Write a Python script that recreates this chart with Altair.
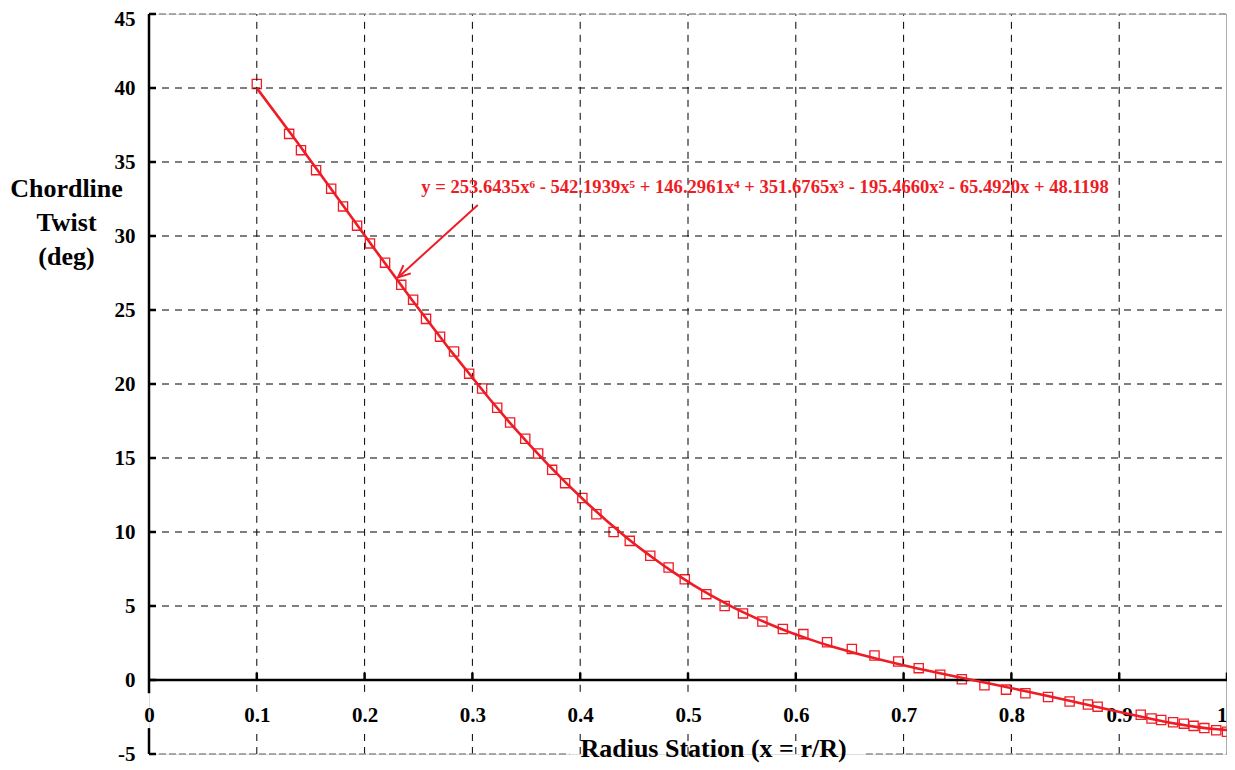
import altair as alt
import pandas as pd

# ---- data ----
station = [0.100, 0.130, 0.141, 0.155, 0.169, 0.180, 0.193, 0.205, 0.219, 0.234,
           0.245, 0.257, 0.270, 0.283, 0.297, 0.309, 0.323, 0.335, 0.349, 0.361,
           0.374, 0.386, 0.402, 0.415, 0.431, 0.446, 0.465, 0.482, 0.497, 0.517,
           0.534, 0.551, 0.569, 0.588, 0.607, 0.629, 0.652, 0.673, 0.695, 0.714,
           0.734, 0.754, 0.775, 0.795, 0.813, 0.834, 0.854, 0.871, 0.880, 0.920,
           0.930, 0.939, 0.950, 0.960, 0.969, 0.979, 0.990, 1.000]
twist = [40.27, 36.9, 35.8, 34.45, 33.2, 32.0, 30.7, 29.5, 28.2, 26.7,
         25.7, 24.4, 23.2, 22.2, 20.7, 19.7, 18.4, 17.4, 16.3, 15.3,
         14.2, 13.3, 12.3, 11.2, 10.0, 9.4, 8.4, 7.6, 6.8, 5.8,
         5.0, 4.5, 3.95, 3.45, 3.1, 2.55, 2.1, 1.65, 1.25, 0.8,
         0.35, 0.05, -0.35, -0.65, -0.9, -1.15, -1.45, -1.65, -1.8, -2.35,
         -2.6, -2.7, -2.85, -2.95, -3.1, -3.25, -3.4, -3.5]

x_ticks = [0, 0.1, 0.2, 0.3, 0.4, 0.5, 0.6, 0.7, 0.8, 0.9, 1]
y_ticks = [-5, 0, 5, 10, 15, 20, 25, 30, 35, 40, 45]
x_grid = [0.1, 0.2, 0.3, 0.4, 0.5, 0.6, 0.7, 0.8, 0.9]
y_grid = [5, 10, 15, 20, 25, 30, 35, 40]
vgrid_spans = [[-5, -3.25], [-0.8, 45]]      # vertical grid broken behind labels
left_axis_spans = [[-5, -3.25], [-0.9, 45]]  # left axis broken behind the "0" label

equation = ("y = 253.6435x\u2076 - 542.1939x\u2075 + 146.2961x\u2074 + 351.6765x\u00b3"
            " - 195.4660x\u00b2 - 65.4920x + 48.1198")
eq_pos = [0.5714, 33.3]
arrow_start = [0.305, 32.1]
arrow_end = [0.231, 27.2]
bottom_border_x = [[0.0, 0.39], [0.665, 1.0]]

RED = "#EE1C25"
FONT = "Liberation Serif"

xs = alt.Scale(domain=[0, 1], nice=False, zero=False)
ys = alt.Scale(domain=[-5, 45], nice=False, zero=False)

XAXIS = alt.Axis(
    values=x_ticks, labelExpr="'' + datum.value", grid=False, ticks=False,
    domain=False, orient="bottom", offset=-50, labelPadding=0,
    labelBaseline="top", labelFont=FONT, labelFontSize=21,
    labelFontWeight="bold", labelColor="black",
    labelAlign={"expr": "datum.value == 1 ? 'right' : 'center'"},
    title="Radius Station (x = r/R)", titleFont=FONT, titleFontSize=26,
    titleFontWeight="bold", titleColor="black", titleX=564, titleY=52,
    titleAlign="center", titleBaseline="alphabetic", labelFlush=False,
    labelOverlap=False)
YAXIS = alt.Axis(
    values=y_ticks, labelExpr="'' + datum.value", grid=False, ticks=False,
    domain=False, labelOffset={"expr": "datum.value == 45 ? 5 : 0"},
    labelPadding=14, labelFont=FONT, labelFontSize=21, labelFontWeight="bold",
    labelColor="black", labelFlush=False, labelOverlap=False,
    title=["Chordline", "Twist", "(deg)"], titleFont=FONT, titleFontSize=26,
    titleFontWeight="bold", titleColor="black", titleAngle=0,
    titleAlign="center", titleBaseline="alphabetic", titleX=-83, titleY=182,
    titleLineHeight=34)


def X(field=None, datum=None):
    if datum is not None:
        return alt.X(datum=datum, scale=xs, axis=XAXIS)
    return alt.X(field, type="quantitative", scale=xs, axis=XAXIS)


def Y(field=None, datum=None):
    if datum is not None:
        return alt.Y(datum=datum, scale=ys, axis=YAXIS)
    return alt.Y(field, type="quantitative", scale=ys, axis=YAXIS)


df = pd.DataFrame({"x": station, "y": twist})

points = alt.Chart(df).mark_point(
    shape="square", filled=False, color=RED, size=85, strokeWidth=1.3, opacity=1
).encode(x=X("x"), y=Y("y"))

vg = pd.DataFrame([{"x": gx, "y": s[0], "y2": s[1]} for gx in x_grid for s in vgrid_spans])
vgrid = alt.Chart(vg).mark_rule(
    color="black", strokeWidth=1, strokeDash=[7, 6]
).encode(x=X("x"), y=Y("y"), y2="y2:Q")

hgrid = alt.Chart(pd.DataFrame({"y": y_grid})).mark_rule(
    color="black", strokeWidth=1, strokeDash=[7, 6]
).encode(y=Y("y"), x=X(datum=0), x2=alt.X2(datum=1))

top_border = alt.Chart(pd.DataFrame({"y": [45]})).mark_rule(
    color="#909090", strokeWidth=1.5, strokeDash=[7, 3]
).encode(y=Y("y"), x=X(datum=0), x2=alt.X2(datum=1))

right_border = alt.Chart(pd.DataFrame({"x": [1]})).mark_rule(
    color="#909090", strokeWidth=1.5
).encode(x=X("x"), y=Y(datum=-5), y2=alt.Y2(datum=45))

bb = pd.DataFrame({"x": [s[0] for s in bottom_border_x],
                   "x2": [s[1] for s in bottom_border_x]})
bottom_border = alt.Chart(bb).mark_rule(
    color="#909090", strokeWidth=1.5, strokeDash=[7, 3]
).encode(x=X("x"), x2="x2:Q", y=Y(datum=-5))

la = pd.DataFrame({"y": [s[0] for s in left_axis_spans],
                   "y2": [s[1] for s in left_axis_spans]})
left_axis = alt.Chart(la).mark_rule(color="black", strokeWidth=2.5).encode(
    x=X(datum=0), y=Y("y"), y2="y2:Q")

zero_line = alt.Chart(pd.DataFrame({"y": [0]})).mark_rule(
    color="black", strokeWidth=2.5
).encode(y=Y("y"), x=X(datum=0), x2=alt.X2(datum=1))

xtick_marks = alt.Chart(pd.DataFrame({"x": x_ticks[1:]})).mark_rule(
    color="black", strokeWidth=2.5
).encode(x=X("x"), y=Y(datum=0), y2=alt.Y2(datum=0.5))

ytick_marks = alt.Chart(pd.DataFrame({"y": y_ticks})).mark_rule(
    color="black", strokeWidth=2.5
).encode(y=Y("y"), x=X(datum=0), x2=alt.X2(datum=0.0065))

fit = alt.Chart(df).transform_regression(
    "x", "y", method="poly", order=6, extent=[0.1, 1.0]
).mark_line(color=RED, strokeWidth=2.6).encode(x=X("x"), y=Y("y"))

arrow_df = pd.DataFrame({"x": [arrow_start[0]], "y": [arrow_start[1]],
                         "x2": [arrow_end[0]], "y2": [arrow_end[1]]})
arrow_line = alt.Chart(arrow_df).mark_rule(color=RED, strokeWidth=2).encode(
    x=X("x"), y=Y("y"), x2="x2:Q", y2="y2:Q")

head_df = pd.DataFrame({"x": [arrow_end[0]], "y": [arrow_end[1]]})
arrow_head = alt.Chart(head_df).mark_point(
    shape="M-0.45,1 L0,0 L0.45,1", filled=False, color=RED, strokeWidth=2,
    size=600, angle=228, opacity=1
).encode(x=X("x"), y=Y("y"))

eq_df = pd.DataFrame({"x": [eq_pos[0]], "y": [eq_pos[1]], "t": [equation]})
eq_text = alt.Chart(eq_df).mark_text(
    font=FONT, fontSize=18.6, fontWeight="bold", color=RED, align="center",
    baseline="middle"
).encode(x=X("x"), y=Y("y"), text="t:N")

chart = alt.layer(
    points, vgrid, hgrid, top_border, right_border, bottom_border, left_axis,
    zero_line, xtick_marks, ytick_marks, fit, arrow_line, arrow_head, eq_text
).properties(
    width=1078, height=740, autosize="none",
    padding={"left": 141, "top": 6, "right": 0, "bottom": 12}
).configure_view(stroke=None).configure(background="white")

chart.save("out.html", embed_options={"renderer": "svg", "actions": False})
